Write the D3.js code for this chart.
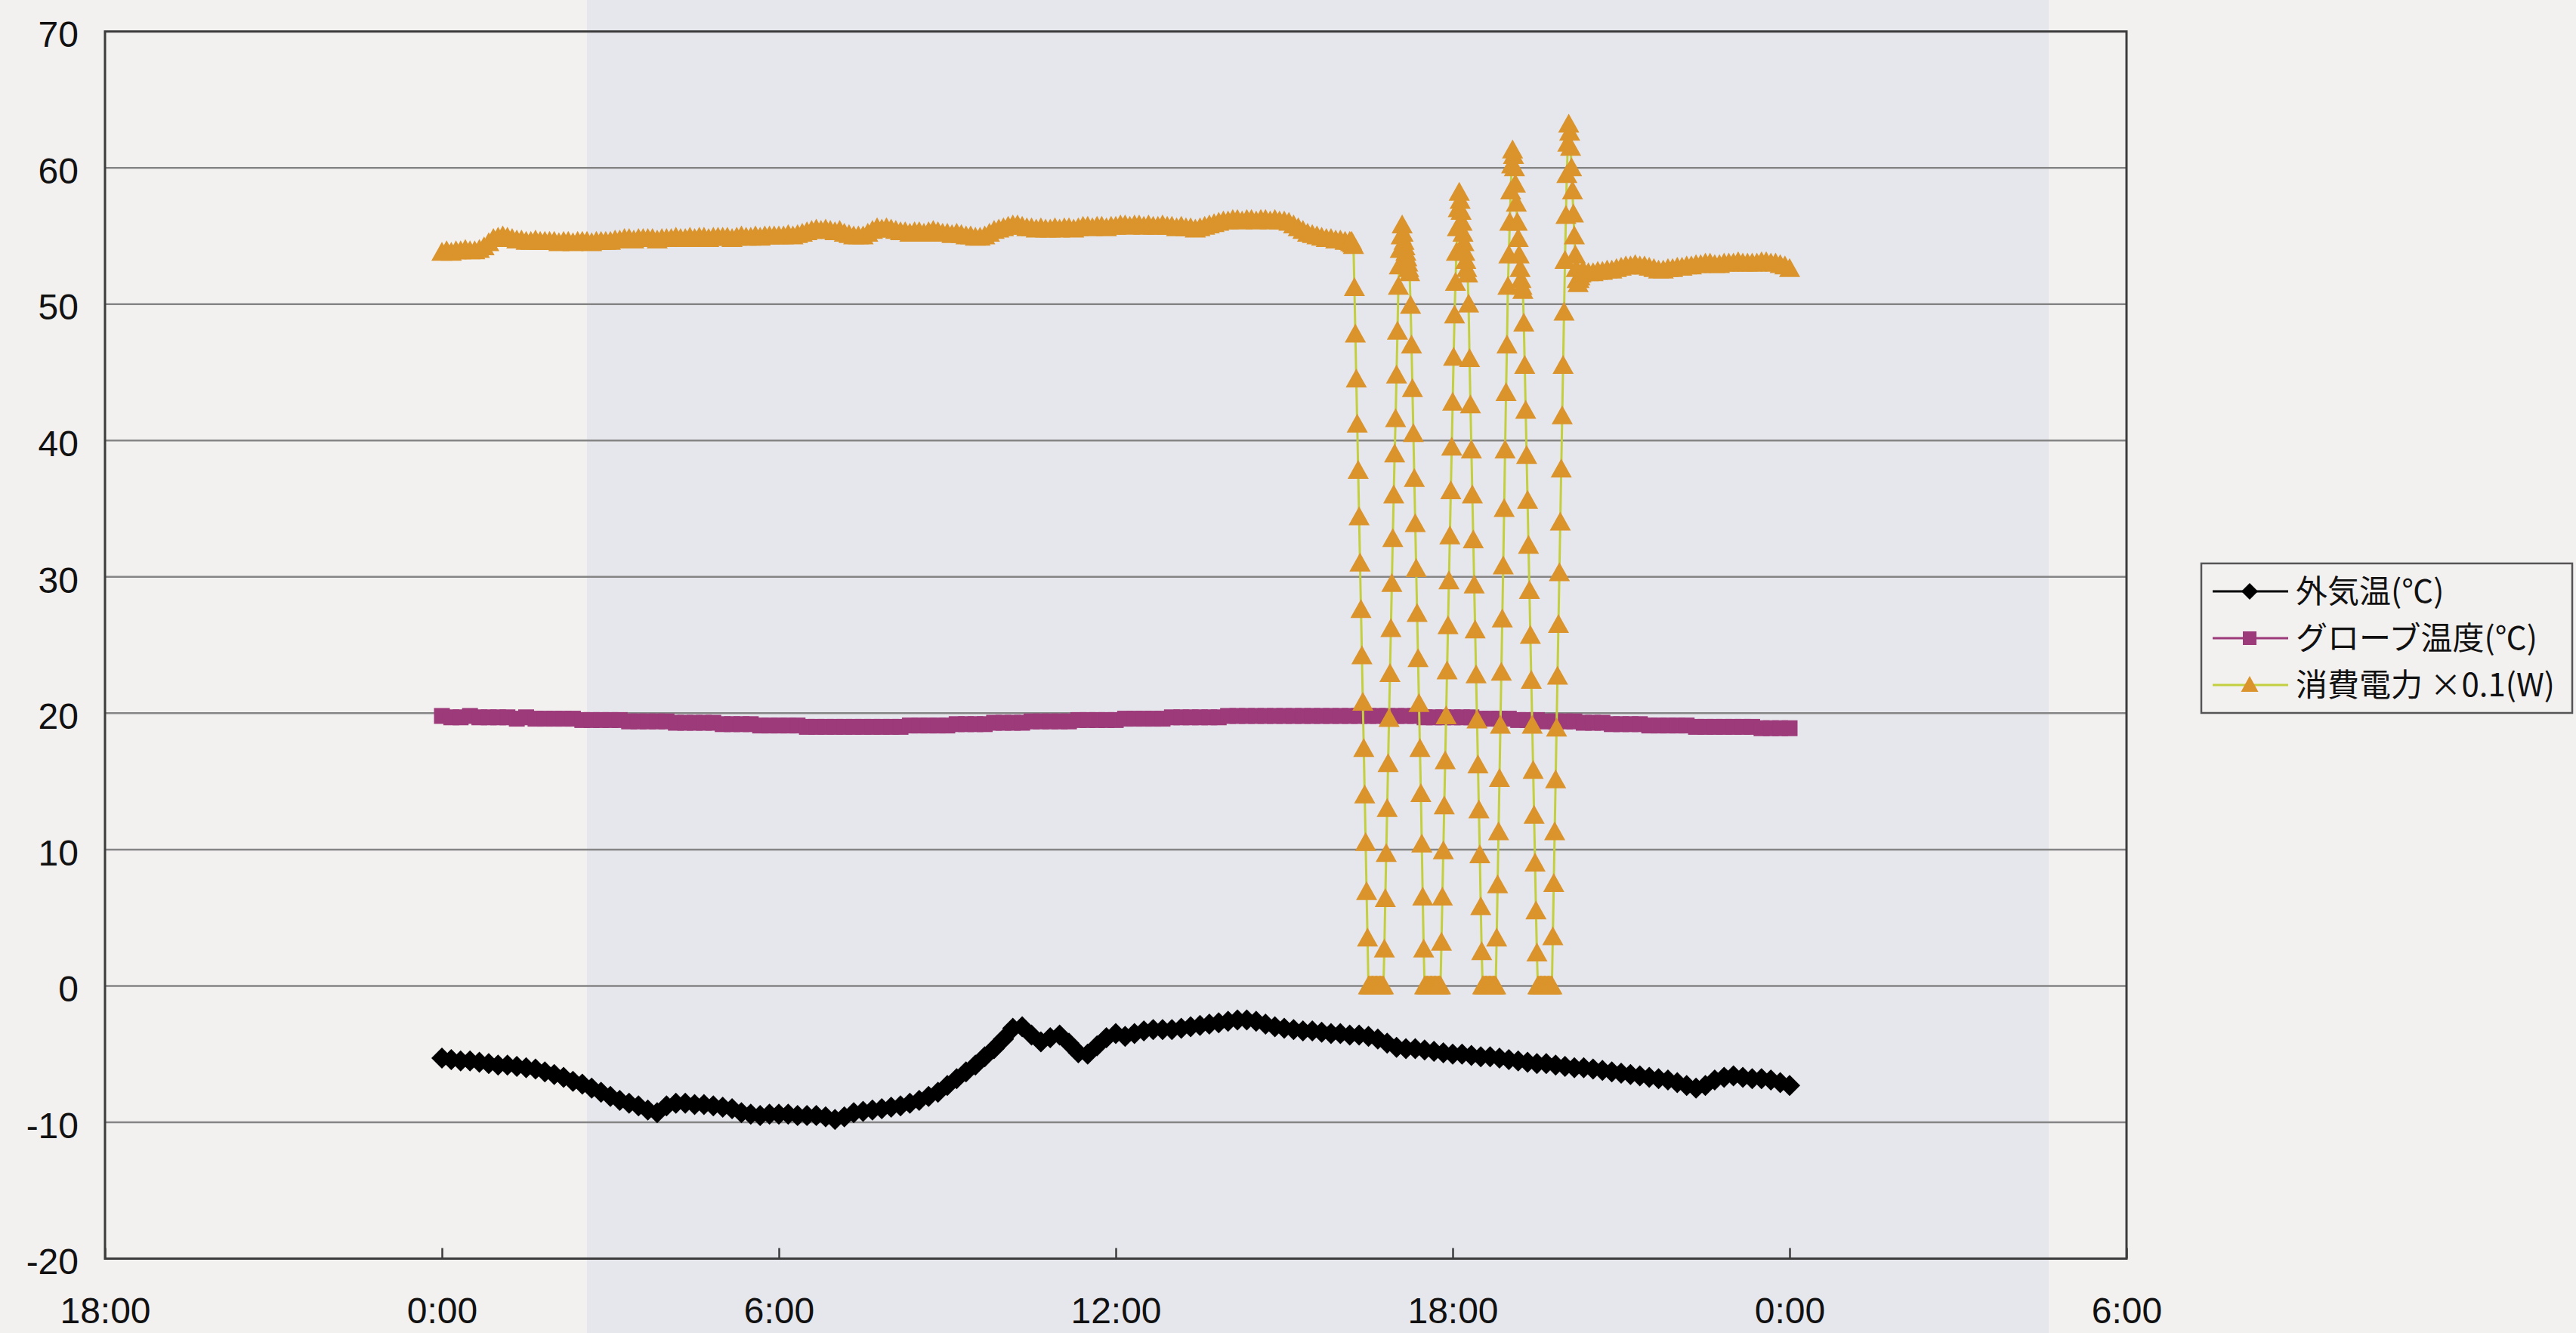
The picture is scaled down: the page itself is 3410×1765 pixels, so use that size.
<!DOCTYPE html>
<html>
<head>
<meta charset="utf-8">
<script src="https://cdn.jsdelivr.net/npm/d3@7"></script>
<style>
  html, body { margin: 0; padding: 0; background: #f3f0f0; }
  svg { display: block; }
  .tick text { font-family: "Liberation Sans", Arial, sans-serif; font-size: 48px; fill: #111; }
  .legend text { font-family: "Noto Sans CJK JP", "Noto Sans", sans-serif; font-size: 42px; fill: #111; }
</style>
</head>
<body>
<svg id="chart" width="3410" height="1765"></svg>
<script>
// ---- axis labels -------------------------------------------------------
const xTickLabels = ["18:00", "0:00", "6:00", "12:00", "18:00", "0:00", "6:00"];
const xTickMinutes = [-360, 0, 360, 720, 1080, 1440, 1800];   // minutes from 0:00
const yTickValues = [-20, -10, 0, 10, 20, 30, 40, 50, 60, 70];
const seriesNames = ["外気温(℃)", "グローブ温度(℃)", "消費電力 ×0.1(W)"];

// ---- outdoor air temperature (℃), every 10 min, 0:00 – 24:00 ---------
const outdoorStart = 0, outdoorStep = 10;
const outdoorTemp = [
  -5.3, -5.4, -5.5, -5.5, -5.6, -5.7,
  -5.8, -5.8, -5.9, -6.0, -6.1, -6.3,
  -6.5, -6.7, -7.0, -7.2, -7.5, -7.8,
  -8.1, -8.4, -8.6, -8.8, -9.1, -9.3,
  -8.8, -8.6, -8.6, -8.7, -8.7, -8.8,
  -8.9, -9.0, -9.3, -9.4, -9.5, -9.4,
  -9.4, -9.4, -9.5, -9.5, -9.5, -9.6,
  -9.8, -9.6, -9.3, -9.2, -9.1, -9.0,
  -8.9, -8.8, -8.6, -8.4, -8.1, -7.8,
  -7.3, -6.8, -6.3, -5.8, -5.2, -4.6,
  -3.9, -3.1, -3.0, -3.6, -4.1, -3.8,
  -3.6, -4.2, -4.9, -5.0, -4.4, -3.8,
  -3.5, -3.7, -3.5, -3.3, -3.2, -3.2,
  -3.2, -3.1, -3.0, -2.9, -2.8, -2.7,
  -2.6, -2.5, -2.5, -2.6, -2.8, -3.0,
  -3.1, -3.2, -3.3, -3.3, -3.4, -3.5,
  -3.5, -3.6, -3.6, -3.7, -3.9, -4.2,
  -4.5, -4.6, -4.6, -4.7, -4.8, -4.9,
  -5.0, -5.0, -5.1, -5.2, -5.2, -5.3,
  -5.4, -5.5, -5.6, -5.7, -5.7, -5.8,
  -5.9, -6.0, -6.0, -6.1, -6.2, -6.3,
  -6.4, -6.5, -6.6, -6.7, -6.8, -6.9,
  -7.1, -7.3, -7.5, -7.3, -6.9, -6.7,
  -6.6, -6.7, -6.8, -6.8, -6.9, -7.1,
  -7.3
];

// ---- globe temperature (℃), every 10 min, 0:00 – 24:00 ---------------
const globeStart = 0, globeStep = 10;
const globeTemp = [
  19.8, 19.7, 19.7, 19.8, 19.7, 19.7,
  19.7, 19.7, 19.6, 19.7, 19.6, 19.6,
  19.6, 19.6, 19.6, 19.5, 19.5, 19.5,
  19.5, 19.5, 19.4, 19.4, 19.4, 19.4,
  19.4, 19.3, 19.3, 19.3, 19.3, 19.3,
  19.2, 19.2, 19.2, 19.2, 19.1, 19.1,
  19.1, 19.1, 19.1, 19.0, 19.0, 19.0,
  19.0, 19.0, 19.0, 19.0, 19.0, 19.0,
  19.0, 19.0, 19.1, 19.1, 19.1, 19.1,
  19.1, 19.2, 19.2, 19.2, 19.2, 19.3,
  19.3, 19.3, 19.3, 19.4, 19.4, 19.4,
  19.4, 19.4, 19.5, 19.5, 19.5, 19.5,
  19.5, 19.6, 19.6, 19.6, 19.6, 19.6,
  19.7, 19.7, 19.7, 19.7, 19.7, 19.7,
  19.8, 19.8, 19.8, 19.8, 19.8, 19.8,
  19.8, 19.8, 19.8, 19.8, 19.8, 19.8,
  19.8, 19.8, 19.8, 19.8, 19.8, 19.8,
  19.8, 19.8, 19.8, 19.7, 19.7, 19.7,
  19.7, 19.7, 19.7, 19.6, 19.6, 19.6,
  19.6, 19.5, 19.5, 19.5, 19.4, 19.4,
  19.4, 19.4, 19.3, 19.3, 19.3, 19.2,
  19.2, 19.2, 19.2, 19.1, 19.1, 19.1,
  19.1, 19.1, 19.0, 19.0, 19.0, 19.0,
  19.0, 19.0, 19.0, 18.9, 18.9, 18.9,
  18.9
];

// ---- power consumption ×0.1 (W) ---------------------------------------
// steady operation, every 5 min, 0:00 – 16:05
const powerDayStart = 0, powerDayStep = 5;
const powerDay = [
  53.8, 53.9, 53.8, 53.9, 53.9, 54.0, 53.9, 53.9, 54.0, 54.2, 54.5, 54.8,
  54.9, 55.0, 54.9, 54.8, 54.7, 54.7, 54.6, 54.6, 54.7, 54.6, 54.6, 54.6,
  54.6, 54.5, 54.6, 54.6, 54.5, 54.6, 54.6, 54.6, 54.5, 54.6, 54.6, 54.6,
  54.6, 54.7, 54.7, 54.8, 54.8, 54.7, 54.8, 54.8, 54.8, 54.8, 54.7, 54.8,
  54.8, 54.8, 54.9, 54.8, 54.8, 54.9, 54.8, 54.9, 54.9, 54.8, 54.9, 54.9,
  54.9, 54.9, 54.8, 54.9, 55.0, 54.9, 54.9, 55.0, 54.9, 55.0, 55.0, 55.0,
  55.0, 55.0, 55.1, 55.0, 55.1, 55.2, 55.3, 55.4, 55.5, 55.4, 55.5, 55.4,
  55.3, 55.4, 55.2, 55.1, 55.0, 55.0, 55.0, 55.2, 55.4, 55.6, 55.5, 55.6,
  55.5, 55.4, 55.3, 55.3, 55.2, 55.3, 55.3, 55.2, 55.3, 55.4, 55.3, 55.2,
  55.2, 55.1, 55.2, 55.1, 55.0, 55.0, 54.9, 54.9, 55.0, 55.2, 55.4, 55.5,
  55.6, 55.7, 55.8, 55.8, 55.7, 55.6, 55.6, 55.5, 55.6, 55.5, 55.5, 55.6,
  55.5, 55.6, 55.6, 55.5, 55.6, 55.7, 55.7, 55.6, 55.7, 55.7, 55.6, 55.7,
  55.7, 55.8, 55.8, 55.7, 55.8, 55.8, 55.7, 55.8, 55.7, 55.7, 55.8, 55.7,
  55.7, 55.6, 55.7, 55.6, 55.6, 55.5, 55.6, 55.7, 55.8, 55.9, 56.0, 56.1,
  56.1, 56.2, 56.2, 56.1, 56.2, 56.2, 56.1, 56.2, 56.2, 56.1, 56.2, 56.1,
  56.1, 56.0, 55.8, 55.6, 55.4, 55.2, 55.1, 55.0, 54.9, 54.8, 54.8, 54.7,
  54.7, 54.6
];
// on/off cycling, every 1 min, 16:10 – 20:20
const powerCycleStart = 16 * 60 + 10, powerCycleStep = 1;
const powerCycle = [
  54.6, 54.5, 54.6, 54.4, 54.3,
  51.2, 47.8, 44.5, 41.2, 37.8, 34.4, 31.0, 27.6, 24.2, 20.8, 17.4, 14.0, 10.5, 6.9, 3.5,
  0, 0, 0, 0, 0, 0, 0, 0, 0, 0, 0, 0, 0, 0, 0, 0, 0,
  2.7, 6.4, 9.7, 13.0, 16.3, 19.6, 22.9, 26.2, 29.5, 32.8, 36.0, 39.0, 41.6, 44.8, 48.0, 51.3,
  52.8, 54.0, 55.0, 55.8, 55.2, 54.6, 54.2, 53.8, 53.4, 53.0, 52.6, 52.3,
  49.9, 47.0, 43.8, 40.5, 37.2, 33.9, 30.6, 27.3, 24.0, 20.7, 17.4, 14.1, 10.4, 6.5, 2.7, 0,
  0, 0, 0, 0, 0, 0, 0, 0, 0, 0, 0, 0, 0, 0, 0, 0, 0,
  3.2, 6.5, 9.9, 13.2, 16.5, 19.8, 23.1, 26.4, 29.7, 33.0, 36.3, 39.5, 42.8, 46.1,
  49.2, 51.6, 53.8, 55.6, 57.0, 58.2, 57.6, 56.8, 56.0, 55.2, 54.5, 53.8, 53.2, 52.6, 52.2,
  50.0, 46.0, 42.6, 39.3, 36.0, 32.7, 29.4, 26.1, 22.8, 19.5, 16.2, 12.9, 9.6, 5.8, 2.5,
  0, 0, 0, 0, 0, 0, 0, 0, 0, 0, 0, 0, 0, 0, 0,
  3.5, 7.4, 11.3, 15.2, 19.1, 23.0, 26.9, 30.8, 35.0, 39.3, 43.5, 47.0, 51.3,
  53.6, 56.0, 58.3, 60.2, 61.3, 60.9, 60.0, 58.8, 57.4, 56.0, 54.8, 53.6, 52.6, 51.8, 51.3, 51.0,
  48.6, 45.5, 42.2, 38.9, 35.6, 32.3, 29.0, 25.7, 22.4, 19.1, 15.8, 12.5, 9.0, 5.5, 2.4,
  0, 0, 0, 0, 0, 0, 0, 0, 0, 0, 0, 0, 0, 0, 0, 0,
  3.6, 7.5, 11.3, 15.1, 18.9, 22.7, 26.5, 30.3, 34.0, 37.9, 41.8, 45.5, 49.4,
  53.2, 56.5, 59.5, 61.8, 63.2, 62.6, 61.5, 60.0, 58.3, 56.6, 55.0, 53.6, 52.6, 51.8, 51.5,
  51.8, 52.0, 52.2, 52.3, 52.4, 52.4
];
// steady operation again, every 5 min, 20:25 – 24:00
const powerNightStart = 20 * 60 + 25, powerNightStep = 5;
const powerNight = [
  52.3, 52.3, 52.4, 52.4, 52.5, 52.5, 52.6,
  52.7, 52.8, 52.8, 52.9, 52.8, 52.8, 52.7, 52.6, 52.5, 52.5, 52.6, 52.6,
  52.7, 52.7, 52.8, 52.8, 52.9, 52.9, 53.0, 53.0, 52.9, 52.9, 53.0, 53.0,
  53.0, 53.1, 53.0, 53.0, 53.0, 53.0, 53.1, 53.1, 53.0, 53.0, 52.9, 52.8,
  52.6
];

// ---- helpers -----------------------------------------------------------
const toPoints = (start, step, values) => values.map((v, i) => ({ m: start + i * step, v }));

const outdoorPts = toPoints(outdoorStart, outdoorStep, outdoorTemp);
const globePts = toPoints(globeStart, globeStep, globeTemp);
const powerPts = [
  ...toPoints(powerDayStart, powerDayStep, powerDay),
  ...toPoints(powerCycleStart, powerCycleStep, powerCycle),
  ...toPoints(powerNightStart, powerNightStep, powerNight)
];

// ---- layout ------------------------------------------------------------
const plot = { left: 139, right: 2815, top: 41.7, bottom: 1666.5 };

const svg = d3.select("#chart");

const x = d3.scaleLinear().domain([-360, 1800]).range([plot.left, plot.right]);
const y = d3.scaleLinear().domain([-20, 70]).range([plot.bottom, plot.top]);

// page tones
svg.append("rect").attr("x", 0).attr("y", 0).attr("width", 3410).attr("height", 1765).attr("fill", "#f3f0f0");
svg.append("rect").attr("x", 777).attr("y", 0).attr("width", 2712 - 777).attr("height", 1765).attr("fill", "#e6e7ed");

// horizontal gridlines
svg.append("g").attr("class", "grid")
  .selectAll("line")
  .data(yTickValues.filter(v => v > -20 && v < 70))
  .join("line")
  .attr("x1", plot.left).attr("x2", plot.right)
  .attr("y1", d => y(d)).attr("y2", d => y(d))
  .attr("stroke", "#858585").attr("stroke-width", 2.5);

// plot frame
svg.append("rect")
  .attr("x", plot.left).attr("y", plot.top)
  .attr("width", plot.right - plot.left).attr("height", plot.bottom - plot.top)
  .attr("fill", "none").attr("stroke", "#3c3c3c").attr("stroke-width", 3);

// x axis: ticks point into the plot
const xAxis = d3.axisBottom(x)
  .tickValues(xTickMinutes)
  .tickFormat((d, i) => xTickLabels[i])
  .tickSizeInner(-14).tickSizeOuter(0).tickPadding(51);
const gx = svg.append("g").attr("transform", `translate(0,${plot.bottom})`).call(xAxis);
gx.select(".domain").remove();
gx.selectAll(".tick line").attr("stroke", "#3c3c3c").attr("stroke-width", 2.5);

// y axis labels
const yAxis = d3.axisLeft(y)
  .tickValues(yTickValues)
  .tickFormat(d => String(d))
  .tickSize(0).tickPadding(35);
const gy = svg.append("g").attr("transform", `translate(${plot.left},0)`).call(yAxis);
gy.select(".domain").remove();
gy.selectAll(".tick text").attr("dy", "0.42em");

// marker shapes
const shapes = {
  diamond: "M0,-14L14,0L0,14L-14,0Z",
  square: "M-10.5,-10.5H10.5V10.5H-10.5Z",
  triangle: "M0,-14L14,11L-14,11Z"
};
const legendShapes = {
  diamond: "M0,-11L11,0L0,11L-11,0Z",
  square: "M-9,-9H9V9H-9Z",
  triangle: "M0,-12L11.5,9L-11.5,9Z"
};

const series = [
  { name: seriesNames[0], pts: outdoorPts, line: "#000000", fill: "#000000", shape: "diamond", lw: 12 },
  { name: seriesNames[1], pts: globePts, line: "#9c3a7a", fill: "#9c3a7a", shape: "square", lw: 9 },
  { name: seriesNames[2], pts: powerPts, line: "#c4cf3f", fill: "#da942b", shape: "triangle", lw: 3 }
];

const lineGen = d3.line().x(d => x(d.m)).y(d => y(d.v));

series.forEach(s => {
  const g = svg.append("g").attr("class", "series");
  g.append("path")
    .attr("d", lineGen(s.pts))
    .attr("fill", "none")
    .attr("stroke", s.line)
    .attr("stroke-width", s.lw)
    .attr("stroke-linejoin", "round");
  g.selectAll("path.mk")
    .data(s.pts)
    .join("path")
    .attr("class", "mk")
    .attr("d", shapes[s.shape])
    .attr("transform", d => `translate(${x(d.m)},${y(d.v)})`)
    .attr("fill", s.fill);
});

// legend
const legend = svg.append("g").attr("class", "legend");
legend.append("rect")
  .attr("x", 2914).attr("y", 746).attr("width", 491).attr("height", 198)
  .attr("fill", "none").attr("stroke", "#555").attr("stroke-width", 2.5);

const rowY = [783, 845, 907];
series.forEach((s, i) => {
  const row = legend.append("g").attr("transform", `translate(0,${rowY[i]})`);
  row.append("line")
    .attr("x1", 2929).attr("x2", 3029).attr("y1", 0).attr("y2", 0)
    .attr("stroke", s.line).attr("stroke-width", 3);
  row.append("path")
    .attr("d", legendShapes[s.shape])
    .attr("transform", "translate(2978,0)")
    .attr("fill", s.fill);
  row.append("text")
    .attr("x", 3039).attr("y", 0).attr("dy", "0.36em")
    .text(s.name);
});
</script>
</body>
</html>
